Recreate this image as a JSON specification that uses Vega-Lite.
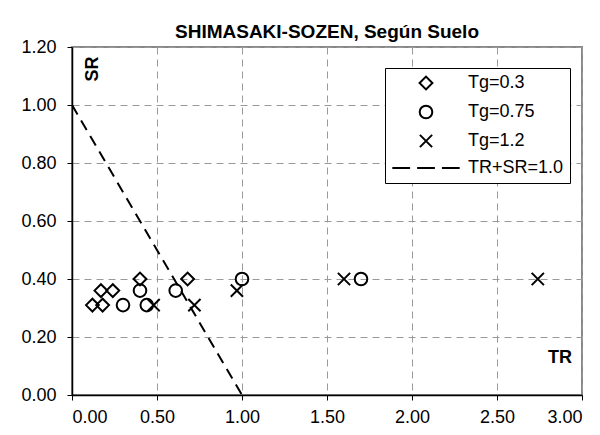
{
  "$schema": "https://vega.github.io/schema/vega-lite/v6.json",
  "width": 510,
  "height": 348,
  "autosize": "none",
  "padding": {"left": 72, "top": 47, "right": 18, "bottom": 40},
  "background": "white",
  "config": {
    "font": "Liberation Sans",
    "view": {"stroke": "#888888", "strokeWidth": 2},
    "axis": {"labelFont": "Liberation Sans", "labelFontSize": 18, "labelColor": "black", "domainColor": "black", "domainWidth": 1.5, "tickColor": "black", "tickSize": 5, "gridColor": "#999999", "gridDash": [7, 5], "gridWidth": 1, "title": null}
  },
  "title": {"text": "SHIMASAKI-SOZEN, Según Suelo", "font": "Liberation Sans", "fontSize": 19, "fontWeight": "bold", "color": "black", "anchor": "middle", "offset": 2, "dy": 6},
  "datasets": {
    "pts": [
      {"TR": 0.12, "SR": 0.31, "serie": "Tg=0.3"},
      {"TR": 0.18, "SR": 0.31, "serie": "Tg=0.3"},
      {"TR": 0.17, "SR": 0.36, "serie": "Tg=0.3"},
      {"TR": 0.24, "SR": 0.36, "serie": "Tg=0.3"},
      {"TR": 0.40, "SR": 0.40, "serie": "Tg=0.3"},
      {"TR": 0.68, "SR": 0.40, "serie": "Tg=0.3"},
      {"TR": 0.30, "SR": 0.31, "serie": "Tg=0.75"},
      {"TR": 0.40, "SR": 0.36, "serie": "Tg=0.75"},
      {"TR": 0.44, "SR": 0.31, "serie": "Tg=0.75"},
      {"TR": 0.61, "SR": 0.36, "serie": "Tg=0.75"},
      {"TR": 1.00, "SR": 0.40, "serie": "Tg=0.75"},
      {"TR": 1.70, "SR": 0.40, "serie": "Tg=0.75"},
      {"TR": 0.48, "SR": 0.31, "serie": "Tg=1.2"},
      {"TR": 0.72, "SR": 0.31, "serie": "Tg=1.2"},
      {"TR": 0.97, "SR": 0.36, "serie": "Tg=1.2"},
      {"TR": 1.60, "SR": 0.40, "serie": "Tg=1.2"},
      {"TR": 2.74, "SR": 0.40, "serie": "Tg=1.2"}
    ],
    "linea": [
      {"TR": 0, "SR": 1},
      {"TR": 1, "SR": 0}
    ],
    "etiquetas": [
      {"TR": 0.124, "SR": 1.124, "txt": "SR", "ang": 270},
      {"TR": 2.87, "SR": 0.128, "txt": "TR", "ang": 0}
    ]
  },
  "layer": [
    {
      "data": {"name": "linea"},
      "mark": {"type": "line", "color": "black", "strokeWidth": 2, "strokeDash": [11, 7]},
      "encoding": {
        "x": {"field": "TR", "type": "quantitative", "scale": {"domain": [0, 3]}, "axis": {"values": [0, 0.5, 1, 1.5, 2, 2.5, 3], "format": ".2f", "labelPadding": 8}},
        "y": {"field": "SR", "type": "quantitative", "scale": {"domain": [0, 1.2]}, "axis": {"values": [0, 0.2, 0.4, 0.6, 0.8, 1.0, 1.2], "format": ".2f", "labelPadding": 11}}
      }
    },
    {
      "data": {"name": "pts"},
      "mark": {"type": "point", "filled": false, "stroke": "black", "strokeWidth": 2, "size": 150, "opacity": 1},
      "encoding": {
        "x": {"field": "TR", "type": "quantitative"},
        "y": {"field": "SR", "type": "quantitative"},
        "shape": {
          "field": "serie", "type": "nominal",
          "scale": {
            "domain": ["Tg=0.3", "Tg=0.75", "Tg=1.2", "TR+SR=1.0"],
            "range": [
              "M-5.5,0M5.5,0M-1.05,0L0,-1.05L1.05,0L0,1.05Z",
              "M-5.5,0M5.5,0M1.03,0A1.03,1.03,0,1,1,-1.03,0A1.03,1.03,0,1,1,1.03,0Z",
              "M-5.5,0M5.5,0M-1,-1L1,1M-1,1L1,-1",
              "M-5.5,0H-2.6M-1.45,0H1.45M2.6,0H5.5"
            ]
          },
          "legend": {
            "title": null, "orient": "none", "legendX": 313, "legendY": 21,
            "direction": "vertical",
            "strokeColor": "black", "fillColor": "white",
            "padding": 6,
            "symbolSize": 150, "symbolStrokeWidth": 2, "symbolStrokeColor": "black", "symbolFillColor": "transparent",
            "symbolOffset": 26,
            "labelFont": "Liberation Sans", "labelFontSize": 18, "labelColor": "black",
            "labelOffset": 33, "rowPadding": 7,
            "labelLimit": 300,
            "labelExpr": "datum.label + '\u00a0\u00a0'"
          }
        }
      }
    },
    {
      "data": {"name": "etiquetas"},
      "mark": {"type": "text", "font": "Liberation Sans", "fontSize": 18, "fontWeight": "bold", "color": "black", "align": "center", "baseline": "middle"},
      "encoding": {
        "x": {"field": "TR", "type": "quantitative"},
        "y": {"field": "SR", "type": "quantitative"},
        "text": {"field": "txt"},
        "angle": {"field": "ang", "type": "quantitative", "scale": null}
      }
    }
  ]
}
